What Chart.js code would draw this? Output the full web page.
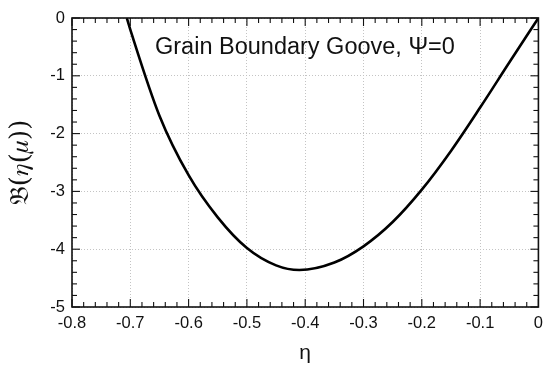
<!DOCTYPE html>
<html><head><meta charset="utf-8">
<script src="https://cdn.jsdelivr.net/npm/chart.js@4/dist/chart.umd.min.js"></script>
<style>html,body{margin:0;padding:0;background:#fff}</style>
</head><body>
<canvas id="c" width="550" height="370" style="width:550px;height:370px;display:block"></canvas>
<script>
// ---- data ----
const etaValues = [-0.706, -0.70, -0.65, -0.60, -0.55, -0.50, -0.45, -0.41, -0.35, -0.30, -0.25, -0.20, -0.15, -0.10, -0.05, 0.0];
const bValues   = [0.0, -0.20, -1.69, -2.72, -3.45, -3.98, -4.28, -4.36, -4.23, -3.95, -3.53, -2.97, -2.30, -1.55, -0.77, 0.0];
const xTickValues = [-0.8, -0.7, -0.6, -0.5, -0.4, -0.3, -0.2, -0.1, 0];
const yTickValues = [0, -1, -2, -3, -4, -5];
const xMinorStep = 0.02;
const yMinorStep = 0.2;
const chartLabel = 'Grain Boundary Goove, \u03A8=0';
const xTitle = '\u03B7';
const yTitle = '\uD835\uDD05(\uD835\uDF02(\uD835\uDF07))';

const points = etaValues.map((x, i) => ({x: x, y: bValues[i]}));
const fmt = v => { const r = Math.round(v * 10) / 10; return r === 0 ? '0' : String(r); };
const FONT = "'Liberation Sans', Arial, Helvetica, sans-serif";

const framePlugin = {
  id: 'frame',
  afterDraw(chart) {
    const {ctx, chartArea: a, scales: {x, y}} = chart;
    ctx.save();
    ctx.strokeStyle = '#111';
    const tick = (px, py, dx, dy) => { ctx.beginPath(); ctx.moveTo(px, py); ctx.lineTo(px + dx, py + dy); ctx.stroke(); };
    ctx.lineWidth = 1.1;
    const nx = Math.round((x.max - x.min) / xMinorStep);
    for (let i = 0; i <= nx; i++) {
      const px = x.getPixelForValue(x.min + i * xMinorStep);
      const L = i % 5 === 0 ? 8 : 5;
      tick(px, a.bottom, 0, -L);
      tick(px, a.top, 0, L);
    }
    const ny = Math.round((y.max - y.min) / yMinorStep);
    for (let i = 0; i <= ny; i++) {
      const py = y.getPixelForValue(y.min + i * yMinorStep);
      const L = i % 5 === 0 ? 8 : 5;
      tick(a.left, py, L, 0);
      tick(a.right, py, -L, 0);
    }
    ctx.lineWidth = 1.6;
    ctx.strokeRect(a.left, a.top, a.right - a.left, a.bottom - a.top);
    ctx.fillStyle = '#111';
    ctx.font = '23.5px ' + FONT;
    ctx.textBaseline = 'alphabetic';
    ctx.textAlign = 'left';
    ctx.fillText(chartLabel, a.left + 83, a.top + 36);
    ctx.restore();
  }
};

new Chart(document.getElementById('c'), {
  type: 'scatter',
  data: {datasets: [{
    data: points,
    showLine: true,
    borderColor: '#000',
    borderWidth: 2.6,
    pointRadius: 0,
    cubicInterpolationMode: 'monotone',
    fill: false
  }]},
  options: {
    responsive: false,
    animation: false,
    devicePixelRatio: 1,
    layout: {padding: {left: 0, right: 9, top: 18, bottom: 0}},
    plugins: {legend: {display: false}, tooltip: {enabled: false}},
    scales: {
      x: {
        type: 'linear', min: -0.8, max: 0,
        afterBuildTicks: s => { s.ticks = xTickValues.map(v => ({value: v})); },
        afterFit: s => { s.height = 63; },
        ticks: {callback: v => fmt(v), font: {size: 16.5, family: FONT}, color: '#111', padding: 7, maxRotation: 0},
        grid: {color: '#c4c4c4', lineWidth: 1, drawTicks: false},
        border: {display: false, dash: [1, 2]},
        title: {display: true, text: xTitle, font: {size: 21, family: FONT}, color: '#111', padding: {top: 0, bottom: 4}}
      },
      y: {
        type: 'linear', min: -5, max: 0,
        afterBuildTicks: s => { s.ticks = yTickValues.map(v => ({value: v})); },
        afterFit: s => { s.width = 72; },
        ticks: {callback: v => fmt(v), font: {size: 16.5, family: FONT}, color: '#111', padding: 7},
        grid: {color: '#c4c4c4', lineWidth: 1, drawTicks: false},
        border: {display: false, dash: [1, 2]},
        title: {display: true, text: yTitle, font: {size: 26, family: "'DejaVu Serif', 'DejaVu Sans', serif"}, color: '#111', padding: {top: 6, bottom: 0}}
      }
    }
  },
  plugins: [framePlugin]
});
</script>
</body></html>
